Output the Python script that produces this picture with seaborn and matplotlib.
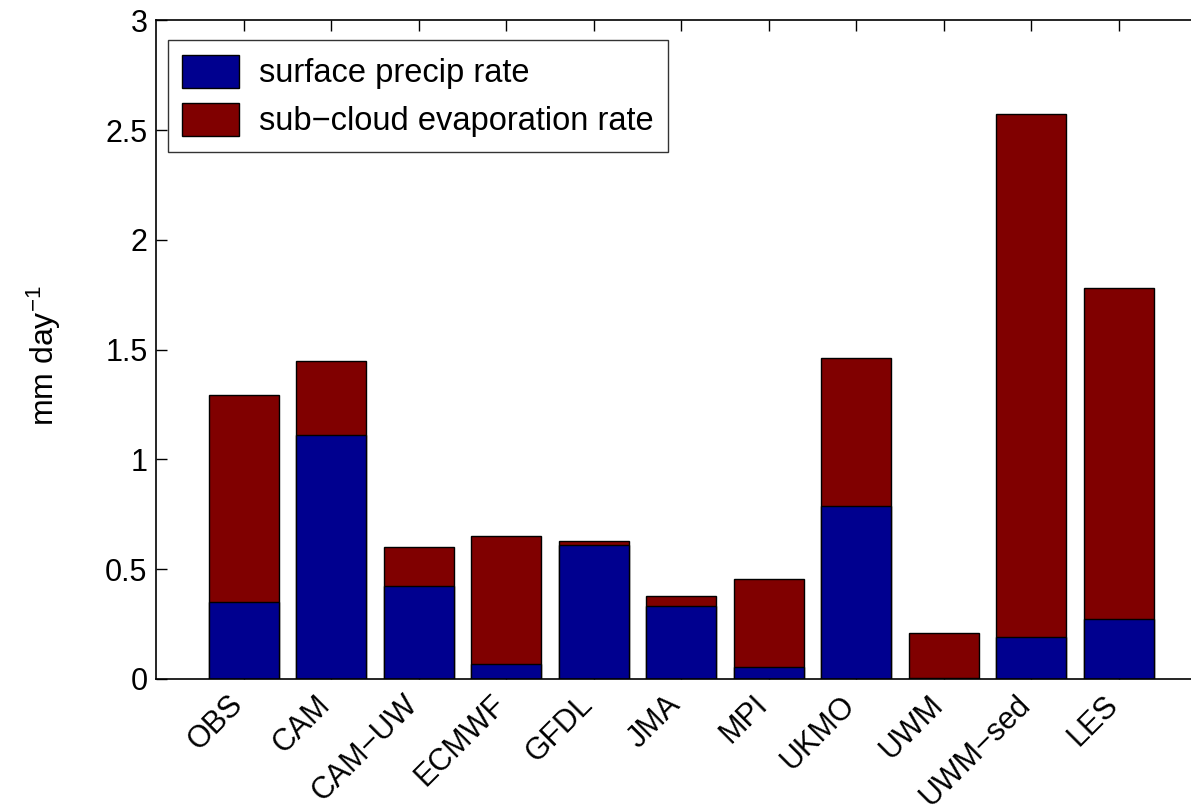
import numpy as np
import pandas as pd
import seaborn as sns
import matplotlib.pyplot as plt

models = ['OBS', 'CAM', 'CAM\u2212UW', 'ECMWF', 'GFDL', 'JMA', 'MPI',
          'UKMO', 'UWM', 'UWM\u2212sed', 'LES']
surface_precip = [0.351, 1.109, 0.421, 0.067, 0.609, 0.332, 0.055,
                  0.788, 0.003, 0.189, 0.274]
subcloud_evap = [0.941, 0.338, 0.178, 0.584, 0.020, 0.044, 0.400,
                 0.673, 0.206, 2.386, 1.505]

df = pd.DataFrame({'model': models,
                   'precip': surface_precip,
                   'evap': subcloud_evap})
df['total'] = df['precip'] + df['evap']

sns.set_style('white')
plt.rcParams['font.family'] = ['Liberation Sans', 'DejaVu Sans']
plt.rcParams['text.color'] = 'black'
plt.rcParams['mathtext.fontset'] = 'custom'
plt.rcParams['mathtext.rm'] = 'Liberation Sans'
plt.rcParams['mathtext.it'] = 'Liberation Sans:italic'

blue = (0.0, 0.0, 0.5625)
red = (0.5, 0.0, 0.0)

fig = plt.figure(figsize=(11.91, 8.11), dpi=100)
ax = fig.add_axes([0.1314, 0.163, 0.8816, 0.812])

# stacked bars: total in red first, then the surface precip part in blue
sns.barplot(data=df, x='model', y='total', color=red, saturation=1,
            width=0.8, edgecolor='black', linewidth=1,
            label='sub\u2212cloud evaporation rate', ax=ax)
sns.barplot(data=df, x='model', y='precip', color=blue, saturation=1,
            width=0.8, edgecolor='black', linewidth=1,
            label='surface precip rate', ax=ax)

ax.set_xlim(-1, 11)
ax.set_ylim(0, 3)
ax.set_yticks([0, 0.5, 1, 1.5, 2, 2.5, 3])
ax.set_yticklabels(['0', '0.5', '1', '1.5', '2', '2.5', '3'])
ax.set_xlabel('')
ax.set_ylabel('mm day$^{\u22121}$', fontsize=23, color='black')
ax.yaxis.set_label_coords(-0.089, 0.49)
ax.set_xticks(range(len(models)))
ax.set_xticklabels(models, rotation=45, ha='right', va='baseline',
                   rotation_mode='anchor')

ax.tick_params(axis='both', which='both', direction='in', length=8,
               width=1, labelsize=22, top=True, bottom=True, left=True,
               right=False, colors='black')
ax.tick_params(axis='x', pad=19.5)
ax.tick_params(axis='y', pad=6.5)
for side in ['left', 'top', 'bottom', 'right']:
    ax.spines[side].set_color('black')
    ax.spines[side].set_linewidth(1.2)

handles, labels = ax.get_legend_handles_labels()
order = [labels.index('surface precip rate'),
         labels.index('sub\u2212cloud evaporation rate')]
leg = ax.legend([handles[i] for i in order], [labels[i] for i in order],
                loc='upper left', bbox_to_anchor=(0.0105, 0.97),
                fontsize=23.5, frameon=True, fancybox=False,
                edgecolor='black', handlelength=1.75, handleheight=1.2,
                borderpad=0.45, labelspacing=0.4, handletextpad=0.6,
                borderaxespad=0)
leg.get_frame().set_linewidth(1)
for t in leg.get_texts():
    t.set_color('black')

fig.savefig('out.png', dpi=100, facecolor='white')
